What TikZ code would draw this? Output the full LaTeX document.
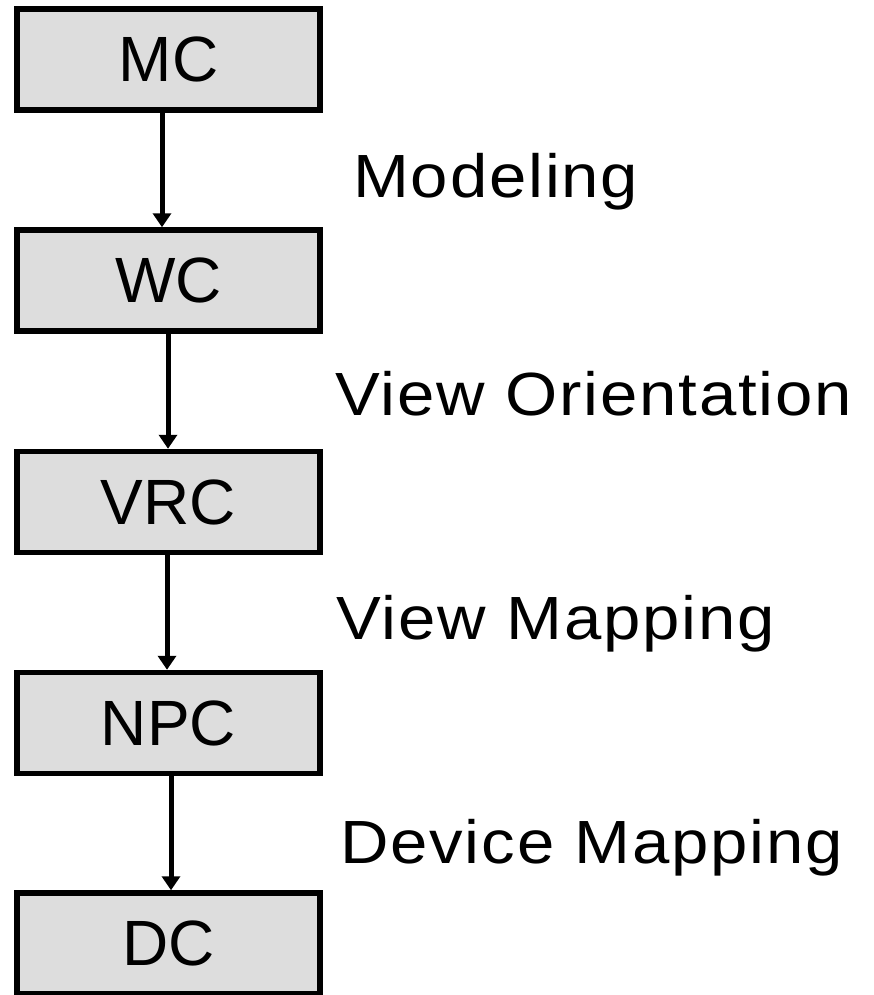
\documentclass[tikz,border=0pt]{standalone}
\usepackage{fontspec}
\setmainfont{Liberation Sans}
\newfontfamily\lblfont[LetterSpace=3,FakeStretch=1.1]{Liberation Sans}
\usetikzlibrary{arrows.meta}
\definecolor{boxgray}{RGB}{221,221,221}
\tikzset{
  cbox/.style={draw=black, fill=boxgray, line width=5.5pt, minimum width=303pt, minimum height=101pt, inner sep=0pt, outer sep=0pt, font=\fontsize{64}{70}\selectfont},
  flow/.style={line width=5pt, -{Triangle[width=18pt,length=14pt]}},
  lbl/.style={anchor=base west, inner sep=0pt, font=\lblfont\fontsize{61}{70}\selectfont}
}
\begin{document}
\begin{tikzpicture}[x=1pt,y=-1pt]
\useasboundingbox (0,0) rectangle (874,995);
\node[cbox] (mc)  at (168.5,59.5) {MC};
\node[cbox] (wc)  at (168.5,280.5) {WC};
\node[cbox] (vrc) at (168.5,502) {VRC};
\node[cbox] (npc) at (168.5,723) {NPC};
\node[cbox] (dc)  at (168.5,943.5) {DC};
\draw[flow] ([xshift=-6.5pt,yshift=-2.75pt]mc.south) -- ([xshift=-6.5pt,yshift=2.75pt]wc.north);
\draw[flow] ([xshift=-0.5pt,yshift=-2.75pt]wc.south) -- ([xshift=-0.5pt,yshift=2.75pt]vrc.north);
\draw[flow] ([xshift=-1.5pt,yshift=-2.75pt]vrc.south) -- ([xshift=-1.5pt,yshift=2.75pt]npc.north);
\draw[flow] ([xshift=2.5pt,yshift=-2.75pt]npc.south) -- ([xshift=2.5pt,yshift=2.75pt]dc.north);
\node[lbl] (l1) at (353,197) {Modeling};
\node[lbl] (l2) at (335,415) {View Orientation};
\node[lbl] (l3) at (336,639) {View Mapping};
\node[lbl] (l4) at (340,863) {Device Mapping};
\end{tikzpicture}
\end{document}
